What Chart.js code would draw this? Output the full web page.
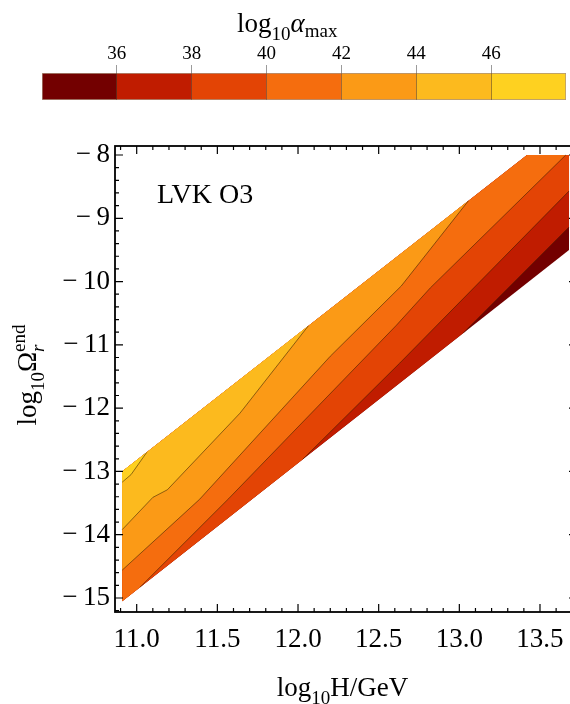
<!DOCTYPE html>
<html>
<head>
<meta charset="utf-8">
<script src="https://cdn.jsdelivr.net/npm/chart.js@4.4.0/dist/chart.umd.min.js"></script>
<style>
  html, body { margin: 0; padding: 0; background: #fff; overflow: hidden; width: 570px; height: 704px; }
  canvas { position: absolute; left: 0; top: 0; }
</style>
</head>
<body>
<canvas id="main" width="577" height="704"></canvas>
<canvas id="bar" width="570" height="110"></canvas>
<script>
// ===== Data =====
const levels = [34, 36, 38, 40, 42, 44, 46, 48];
const levelColors = ["#730000", "#c01c00", "#e34405", "#f56d0e", "#fb9a16", "#fcba1e", "#fed120"];
const barTicks = [36, 38, 40, 42, 44, 46];
const xTicks = [11.0, 11.5, 12.0, 12.5, 13.0, 13.5];
const yTicks = [-8, -9, -10, -11, -12, -13, -14, -15];

// allowed region corners: bottom-left, lower-right, top-right, top edge, top-left
const regionH = [10.91, 13.68, 13.68, 13.42, 10.91];
const regionOmega = [-15.05, -9.5, -8.0, -8.0, -13.0];

// contour lines of log10 alpha_max
const c36H = [13.025, 13.68];
const c36Omega = [-10.812, -9.14];
const c38H = [12.03, 12.63, 13.68];
const c38Omega = [-12.806, -11.29, -8.57];
const c40H = [11.02, 11.57, 12.61, 12.82, 13.66];
const c40Omega = [-14.83, -13.43, -10.69, -10.10, -8.0];
const c42H = [10.91, 11.39, 12.20, 12.64, 13.056];
const c42Omega = [-14.56, -13.44, -11.18, -10.07, -8.725];
const c44H = [10.91, 11.10, 11.19, 11.64, 12.064];
const c44Omega = [-13.92, -13.41, -13.29, -12.08, -10.70];
const c46H = [10.91, 10.965, 11.062];
const c46Omega = [-13.17, -13.05, -12.70];

const FONT = '"Liberation Serif", "Times New Roman", serif';
Chart.defaults.font.family = FONT;

// ===== Helpers =====
const toPts = (hs, os) => hs.map((h, i) => ({ x: h, y: os[i] }));
const corners = idx => idx.map(i => ({ x: regionH[i], y: regionOmega[i] }));

const fontOf = p => `${p.it ? "italic " : ""}${p.s || 27}px ${FONT}`;
function richText(ctx, parts, x, y, align) {
  const widths = parts.map(p => {
    ctx.font = fontOf(p);
    return p.adv === 0 ? 0 : ctx.measureText(p.t).width;
  });
  const total = widths.reduce((a, b) => a + b, 0);
  let cx = align === "center" ? x - total / 2 : x;
  ctx.textAlign = "left";
  ctx.textBaseline = "alphabetic";
  ctx.fillStyle = "#000";
  parts.forEach((p, i) => {
    ctx.font = fontOf(p);
    ctx.fillText(p.t, cx, y + (p.dy || 0));
    cx += widths[i];
  });
}

// ===== Contour datasets =====
const contours = [
  { h: c36H, o: c36Omega, via: [2, 3, 4, 0] },
  { h: c38H, o: c38Omega, via: [2, 3, 4, 0] },
  { h: c40H, o: c40Omega, via: [3, 4, 0] },
  { h: c42H, o: c42Omega, via: [4] },
  { h: c44H, o: c44Omega, via: [4] },
  { h: c46H, o: c46Omega, via: [4] }
];

const datasets = [];
datasets.push({
  data: corners([0, 1, 2, 3, 4]),
  backgroundColor: levelColors[0],
  borderColor: "transparent",
  borderWidth: 0,
  fill: "shape",
  order: 100
});
contours.forEach((c, k) => {
  datasets.push({
    data: toPts(c.h, c.o).concat(corners(c.via)),
    backgroundColor: levelColors[k + 1],
    borderColor: "transparent",
    borderWidth: 0,
    fill: "shape",
    order: 99 - k
  });
});
contours.forEach(c => {
  datasets.push({
    data: toPts(c.h, c.o),
    borderColor: "rgba(40,20,0,0.65)",
    borderWidth: 0.8,
    fill: false,
    order: 0
  });
});

// ===== Frame, inward ticks and labels =====
const framePlugin = {
  id: "frame",
  afterDraw(chart) {
    const { ctx, chartArea: a, scales: { x, y } } = chart;
    ctx.save();
    ctx.strokeStyle = "#000";
    ctx.lineWidth = 1.2;
    ctx.beginPath();
    for (let i = 109; i <= 137; i++) {
      const px = x.getPixelForValue(i / 10);
      const len = i % 5 === 0 ? 8 : 4;
      ctx.moveTo(px, a.bottom); ctx.lineTo(px, a.bottom - len);
      ctx.moveTo(px, a.top); ctx.lineTo(px, a.top + len);
    }
    for (let i = -76; i <= -40; i++) {
      const py = y.getPixelForValue(i / 5);
      const len = i % 5 === 0 ? 8 : 4;
      ctx.moveTo(a.left, py); ctx.lineTo(a.left + len, py);
      ctx.moveTo(a.right, py); ctx.lineTo(a.right - len, py);
    }
    ctx.stroke();
    ctx.lineWidth = 1.8;
    ctx.strokeRect(a.left, a.top, a.right - a.left, a.bottom - a.top);

    ctx.font = `28px ${FONT}`;
    ctx.fillStyle = "#000";
    ctx.textAlign = "left";
    ctx.textBaseline = "alphabetic";
    ctx.fillText("LVK O3", 157, 203);

    richText(ctx, [
      { t: "log" }, { t: "10", s: 19, dy: 8 }, { t: "H/GeV" }
    ], (a.left + 570) / 2, 696, "center");

    ctx.translate(36, 375);
    ctx.rotate(-Math.PI / 2);
    richText(ctx, [
      { t: "log" }, { t: "10", s: 19, dy: 8 }, { t: "Ω" },
      { t: "r", s: 19, dy: 8, it: true, adv: 0 }, { t: "end", s: 19, dy: -11 }
    ], 0, 0, "center");
    ctx.restore();
  }
};

new Chart(document.getElementById("main"), {
  type: "line",
  data: { datasets },
  options: {
    responsive: false,
    animation: false,
    devicePixelRatio: 1,
    layout: { padding: { top: 146, left: 0, right: 0, bottom: 0 } },
    plugins: { legend: { display: false }, tooltip: { enabled: false } },
    elements: { point: { radius: 0 }, line: { tension: 0 } },
    scales: {
      x: {
        type: "linear",
        min: 10.8655,
        max: 13.7294,
        grid: { display: false, drawTicks: false },
        border: { display: false },
        afterBuildTicks: s => { s.ticks = xTicks.map(v => ({ value: v })); },
        afterFit: s => { s.height = 92; },
        ticks: {
          font: { size: 27 }, color: "#000", padding: 12,
          maxRotation: 0, autoSkip: false,
          callback: v => v.toFixed(1)
        }
      },
      y: {
        type: "linear",
        min: -15.221,
        max: -7.858,
        grid: { display: false, drawTicks: false },
        border: { display: false },
        afterBuildTicks: s => { s.ticks = yTicks.map(v => ({ value: v })); },
        afterFit: s => { s.width = 115; },
        ticks: {
          font: { size: 27 }, color: "#000", padding: 5,
          callback: v => "\u2212\u2009" + Math.abs(v)
        }
      }
    }
  },
  plugins: [framePlugin]
});

// ===== Colour bar =====
const barTitle = {
  id: "barTitle",
  afterDraw(chart) {
    const ctx = chart.ctx;
    ctx.save();
    richText(ctx, [
      { t: "log" }, { t: "10", s: 19, dy: 8 }, { t: "α", it: true }, { t: "max", s: 19, dy: 5 }
    ], 237, 31.7, "left");
    ctx.restore();
  }
};

new Chart(document.getElementById("bar"), {
  type: "bar",
  data: {
    labels: [""],
    datasets: levelColors.map((c, i) => ({
      data: [[levels[i], levels[i + 1]]],
      backgroundColor: c,
      borderColor: "rgba(90,40,0,0.5)",
      borderWidth: { top: 1, bottom: 1, left: i === 0 ? 1 : 0, right: i === levelColors.length - 1 ? 1 : 0 },
      borderSkipped: false,
      grouped: false,
      barPercentage: 1,
      categoryPercentage: 1
    }))
  },
  options: {
    indexAxis: "y",
    responsive: false,
    animation: false,
    devicePixelRatio: 1,
    layout: { padding: { left: 42, right: 4, bottom: 10, top: 0 } },
    plugins: { legend: { display: false }, tooltip: { enabled: false } },
    scales: {
      x: {
        position: "top",
        min: 34,
        max: 48,
        afterBuildTicks: s => { s.ticks = barTicks.map(v => ({ value: v })); },
        afterFit: s => { s.height = 73; },
        grid: { drawOnChartArea: true, z: 1, color: "rgba(70,40,10,0.5)", tickColor: "#9b9b9b", tickLength: 8, lineWidth: 1 },
        border: { display: false },
        ticks: { font: { size: 19 }, color: "#000", padding: 0 }
      },
      y: { display: false }
    }
  },
  plugins: [barTitle]
});
</script>
</body>
</html>
